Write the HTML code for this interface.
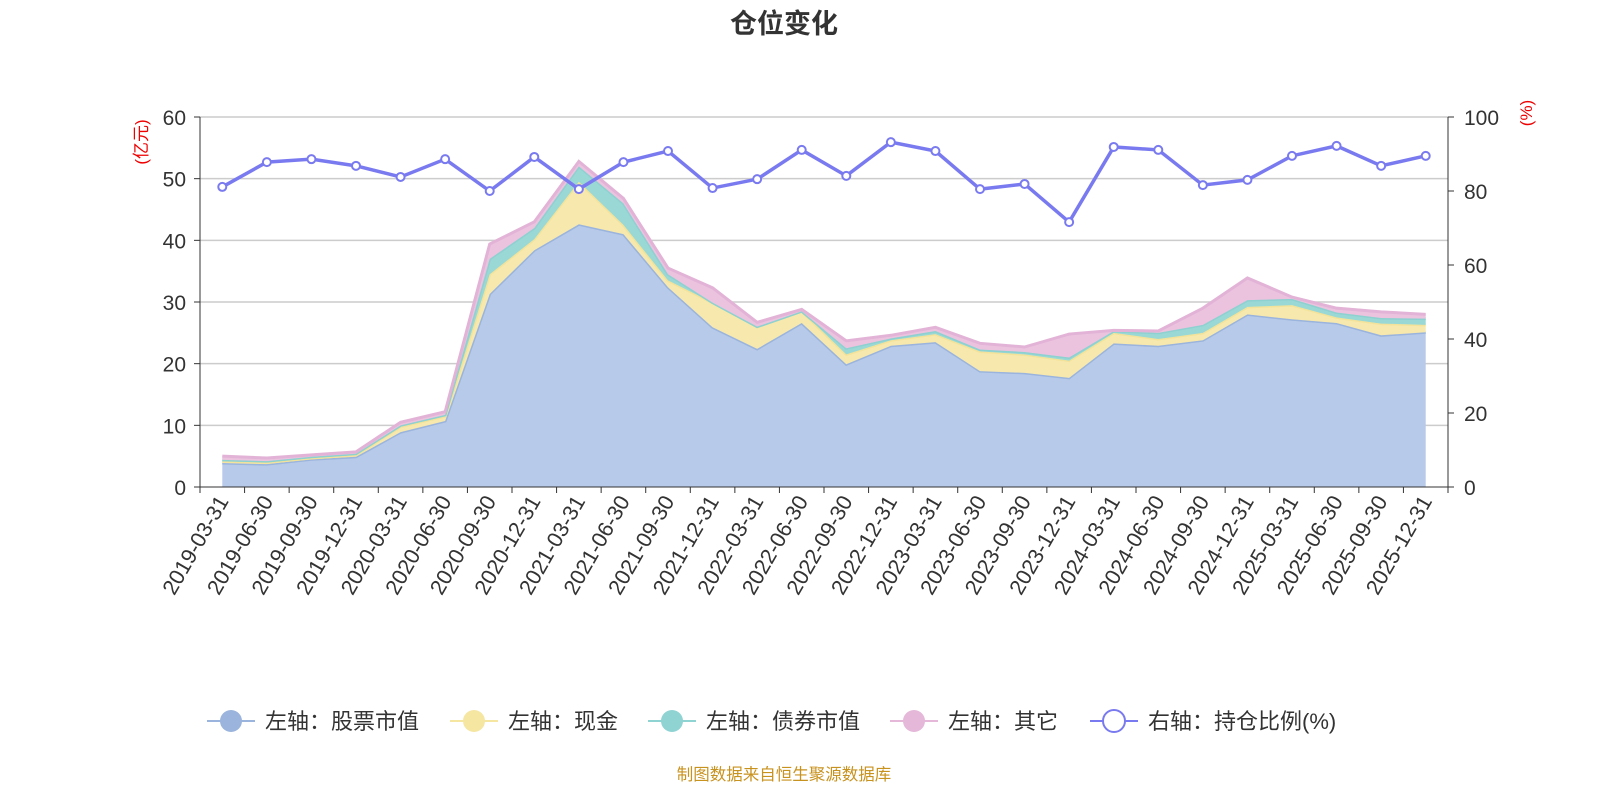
<!DOCTYPE html>
<html><head><meta charset="utf-8"><style>
body{margin:0;background:#fff;}
svg{display:block;font-family:"Liberation Sans","Noto Sans CJK SC",sans-serif;}
</style></head><body>
<svg id="c" width="1600" height="800"></svg>
<script>
const categories=["2019-03-31","2019-06-30","2019-09-30","2019-12-31","2020-03-31","2020-06-30","2020-09-30","2020-12-31","2021-03-31","2021-06-30","2021-09-30","2021-12-31","2022-03-31","2022-06-30","2022-09-30","2022-12-31","2023-03-31","2023-06-30","2023-09-30","2023-12-31","2024-03-31","2024-06-30","2024-09-30","2024-12-31","2025-03-31","2025-06-30","2025-09-30","2025-12-31"];
const stockValues=[3.9,3.7,4.5,4.9,8.9,10.7,31.3,38.4,42.6,41.0,32.4,25.9,22.4,26.6,19.9,22.9,23.5,18.8,18.5,17.7,23.3,22.9,23.8,28.0,27.2,26.6,24.6,25.1];
const cashValues=[0.3,0.3,0.2,0.3,0.9,0.8,3.2,1.8,6.9,1.5,1.1,4.0,3.6,1.9,1.6,0.9,1.3,3.2,3.0,2.8,1.7,1.1,1.2,1.2,2.3,0.9,1.9,1.2];
const bondValues=[0.2,0.2,0.2,0.2,0.2,0.2,2.5,1.8,2.5,3.5,1.0,0,0,0,1.0,0.3,0.5,0.3,0.4,0.5,0.3,1.0,1.3,1.1,1.0,0.8,0.9,1.0];
const otherValues=[0.6,0.5,0.3,0.3,0.5,0.5,2.4,1.0,0.8,0.8,1.0,2.4,0.7,0.3,1.2,0.5,0.6,1.0,0.8,3.8,0.1,0.3,2.7,3.6,0.3,0.7,1.0,0.7];
const ratioValues=[81.1,87.8,88.6,86.8,83.8,88.6,80,89.2,80.5,87.8,90.8,80.8,83.2,91.1,84.1,93.2,90.8,80.5,81.9,71.6,91.9,91.1,81.6,83,89.5,92.2,86.8,89.5];
const leftTicks=[0,10,20,30,40,50,60];
const rightTicks=[0,20,40,60,80,100];

const NS="http://www.w3.org/2000/svg";
const svg=document.getElementById('c');
const X0=200,X1=1448,Y0=487,Y1=117,n=categories.length,bw=(X1-X0)/n;
const xs=i=>X0+(i+0.5)*bw;
const yl=v=>Y0-(v/60)*(Y0-Y1);
const yr=v=>Y0-(v/100)*(Y0-Y1);
function el(t,a,txt){const e=document.createElementNS(NS,t);for(const k in a)e.setAttribute(k,a[k]);if(txt!==undefined)e.textContent=txt;svg.appendChild(e);return e;}

let e=el('text',{x:784,y:33,'text-anchor':'middle','font-size':27,'font-weight':'bold',fill:'#333'},'仓位变化');

leftTicks.forEach(v=>{
 if(v>0){let g=el('line',{x1:X0,x2:X1,y1:yl(v),y2:yl(v),stroke:'#ccc','stroke-width':1.5});}
 let t=el('text',{x:186,y:yl(v)+8,'text-anchor':'end','font-size':21,fill:'#333'},v);
 
 el('line',{x1:194,x2:X0,y1:yl(v),y2:yl(v),stroke:'#333'});
});
rightTicks.forEach(v=>{
 let t=el('text',{x:1464,y:yr(v)+8,'font-size':21,fill:'#333'},v);
 
 el('line',{x1:X1,x2:X1+6,y1:yr(v),y2:yr(v),stroke:'#333'});
});
e=el('text',{x:0,y:0,'font-size':17,fill:'#e00',transform:'translate(147,142) rotate(-90)','text-anchor':'middle'},'(亿元)');

e=el('text',{x:0,y:0,'font-size':17,fill:'#e00',transform:'translate(1532,113) rotate(-90)','text-anchor':'middle'},'(%)');


const series=[[stockValues,'#b7cae9','#9ab4dd','stock-area'],[cashValues,'#f7e8ad','#f3e39a','cash-area'],[bondValues,'#9ad8d6','#8dd1d0','bond-area'],[otherValues,'#ebc3df','#e2b3d6','other-area']];
let base=categories.map(()=>0);
series.forEach(([vals,fill,stroke,name])=>{
 const top=base.map((b,i)=>b+vals[i]);
 let d='M'+top.map((v,i)=>xs(i)+','+yl(v)).join('L');
 for(let i=n-1;i>=0;i--)d+='L'+xs(i)+','+yl(base[i]);
 let p=el('path',{d:d+'Z',fill:fill,stroke:'none'});
 
 let l=el('polyline',{points:top.map((v,i)=>xs(i)+','+yl(v)).join(' '),fill:'none',stroke:stroke,'stroke-width':3});
 
 base=top;
});
el('line',{x1:X0,x2:X0,y1:Y1,y2:Y0,stroke:'#333'});
el('line',{x1:X1,x2:X1,y1:Y1,y2:Y0,stroke:'#333'});
el('line',{x1:X0,x2:X1,y1:Y0,y2:Y0,stroke:'#333'});
for(let i=0;i<=n;i++)el('line',{x1:X0+i*bw,x2:X0+i*bw,y1:Y0,y2:Y0+6,stroke:'#333'});
categories.forEach((c,i)=>{
 let t=el('text',{x:0,y:0,'font-size':21.5,fill:'#333','text-anchor':'end',transform:`translate(${xs(i)+7},${Y0+14}) rotate(-60)`},c);
 
});
e=el('polyline',{points:ratioValues.map((v,i)=>xs(i)+','+yr(v)).join(' '),fill:'none',stroke:'#7a7af0','stroke-width':3.5});

ratioValues.forEach((v,i)=>{
 let c=el('circle',{cx:xs(i),cy:yr(v),r:4,fill:'#fff',stroke:'#7a7af0','stroke-width':2});
 
});
const leg=[[207,'左轴：股票市值','#9ab4dd',true],[450,'左轴：现金','#f5e6a2',true],[648,'左轴：债券市值','#8fd3d3',true],[890,'左轴：其它','#e5b7d8',true],[1090,'右轴：持仓比例(%)','#7a7af0',false]];
leg.forEach(([x,t,c,f])=>{
 let g=document.createElementNS(NS,'g');svg.appendChild(g);
 const l=document.createElementNS(NS,'line');[['x1',x],['x2',x+48],['y1',721],['y2',721],['stroke',c],['stroke-width',2]].forEach(a=>l.setAttribute(a[0],a[1]));g.appendChild(l);
 const ci=document.createElementNS(NS,'circle');[['cx',x+24],['cy',721],['r',11],['fill',f?c:'#fff'],['stroke',c],['stroke-width',f?0:2]].forEach(a=>ci.setAttribute(a[0],a[1]));g.appendChild(ci);
 const tx=document.createElementNS(NS,'text');[['x',x+58],['y',729],['font-size',22],['fill','#333']].forEach(a=>tx.setAttribute(a[0],a[1]));tx.textContent=t;g.appendChild(tx);
});
e=el('text',{x:784,y:780,'text-anchor':'middle','font-size':16.5,fill:'#c8921e'},'制图数据来自恒生聚源数据库');

</script>
</body></html>
